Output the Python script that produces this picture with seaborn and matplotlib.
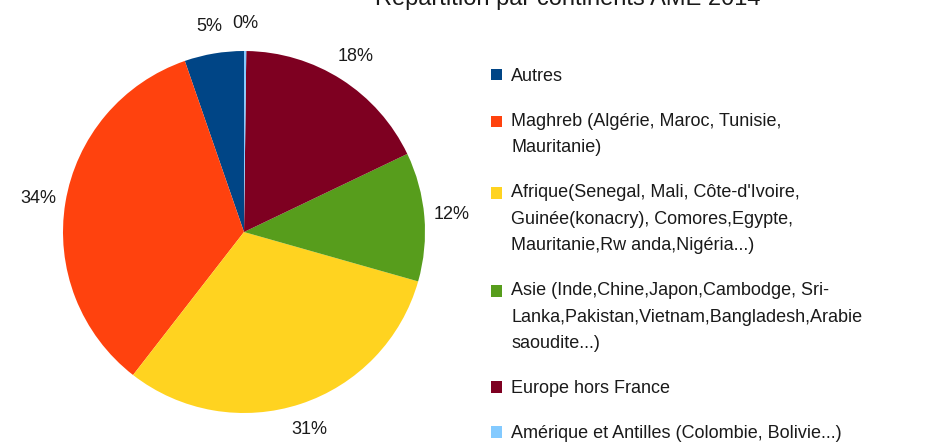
import matplotlib
matplotlib.use("Agg")
import matplotlib.pyplot as plt
from matplotlib.legend_handler import HandlerPatch
from matplotlib.patches import Rectangle
import seaborn as sns

# slice data, listed counter-clockwise from 12 o'clock (legend order)
regions = [
    "Autres",
    "Maghreb (Algérie, Maroc, Tunisie,\nMauritanie)",
    "Afrique(Senegal, Mali, Côte-d'Ivoire,\nGuinée(konacry), Comores,Egypte,\nMauritanie,Rw anda,Nigéria...)",
    "Asie (Inde,Chine,Japon,Cambodge, Sri-\nLanka,Pakistan,Vietnam,Bangladesh,Arabie\nsaoudite...)",
    "Europe hors France",
    "Amérique et Antilles (Colombie, Bolivie...)",
]
shares = [5.3, 34.2, 31.1, 11.5, 17.7, 0.2]
colors = ["#004586", "#ff420e", "#ffd320", "#579d1c", "#7e0021", "#83caff"]

sns.set_theme(style="white")
plt.rcParams["font.family"] = ["Liberation Sans", "DejaVu Sans"]

W, H = 930, 442
fig = plt.figure(figsize=(W / 100, H / 100), dpi=100)
fig.patch.set_facecolor("white")

cx, cy, r = 244, 232, 181
ax = fig.add_axes([(cx - r) / W, (H - cy - r) / H, 2 * r / W, 2 * r / H])
wedges, _, pcts = ax.pie(
    shares, colors=colors, startangle=90, counterclock=True,
    autopct=lambda p: f"{p:.0f}%", pctdistance=1.15,
    wedgeprops={"linewidth": 0},
    textprops={"fontsize": 13, "color": "#1a1a1a"},
)
ax.set_xlim(-1, 1)
ax.set_ylim(-1, 1)
ax.set_aspect("equal")
ax.axis("off")

# title sits mostly above the top edge, as in the original export
fig.text(568 / W, 1 - 5 / H, "Répartition par continents AME 2014",
         ha="center", va="baseline", fontsize=17, color="#1a1a1a")

# legend squares line up with the first line of a wrapped label
line_pitch = 26.5 * 72 / 100  # points


def first_line_square(n_lines):
    def make(legend, orig_handle, xdescent, ydescent, width, height, fontsize):
        shift = (n_lines - 1) * line_pitch / 2
        return Rectangle((-xdescent, -ydescent + shift), width, height)
    return make


handler_map = {w: HandlerPatch(patch_func=first_line_square(lbl.count("\n") + 1))
               for w, lbl in zip(wedges, regions)}

leg = fig.legend(
    wedges, regions, loc="upper left", bbox_to_anchor=(491 / W, 1 - 68 / H),
    frameon=False, fontsize=13, handlelength=0.62, handleheight=0.62,
    handletextpad=0.5, labelspacing=1.55, borderpad=0, borderaxespad=0,
    handler_map=handler_map,
)
for t in leg.get_texts():
    t.set_linespacing(1.73)
    t.set_color("#1a1a1a")

fig.savefig("out.png", dpi=100)
